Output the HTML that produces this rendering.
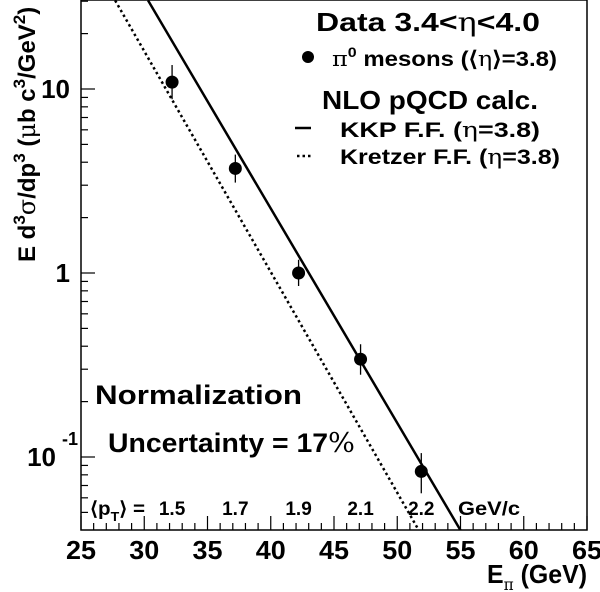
<!DOCTYPE html>
<html><head><meta charset="utf-8"><style>
body{margin:0;background:#fff}
svg{display:block;font-family:"Liberation Sans",Arial,sans-serif;font-weight:bold}
</style></head><body>
<svg id="chart" width="600" height="592" viewBox="0 0 600 592">
<rect x="81" y="0" width="506" height="530" fill="none" stroke="#000" stroke-width="1.5"/>
<g id="axes"></g>
<g id="marks"></g>
<g>
<text x="316" y="31" font-size="26" textLength="224" lengthAdjust="spacingAndGlyphs">Data 3.4&lt;<tspan font-weight="normal" font-family="DejaVu Serif,serif">η</tspan>&lt;4.0</text>
<circle cx="308" cy="57" r="6" fill="#000"/>
<text x="332" y="66" font-size="21" textLength="225" lengthAdjust="spacingAndGlyphs"><tspan font-weight="normal" font-family="DejaVu Serif,serif">π</tspan><tspan dy="-9" font-size="14">0</tspan><tspan dy="9"> mesons (⟨</tspan><tspan font-weight="normal" font-family="DejaVu Serif,serif">η</tspan>⟩=3.8)</text>
<text x="322" y="109" font-size="26" textLength="216" lengthAdjust="spacingAndGlyphs">NLO pQCD calc.</text>
<line x1="295" y1="128" x2="311" y2="128" stroke="#000" stroke-width="2.5"/>
<text x="340" y="137" font-size="21" textLength="200" lengthAdjust="spacingAndGlyphs">KKP F.F. (<tspan font-weight="normal" font-family="DejaVu Serif,serif">η</tspan>=3.8)</text>
<line x1="297" y1="156" x2="313" y2="156" stroke="#000" stroke-width="2.5" stroke-dasharray="2.5,3"/>
<text x="340" y="164" font-size="21" textLength="220" lengthAdjust="spacingAndGlyphs">Kretzer F.F. (<tspan font-weight="normal" font-family="DejaVu Serif,serif">η</tspan>=3.8)</text>
</g>
<text x="95" y="404" font-size="27" textLength="207" lengthAdjust="spacingAndGlyphs">Normalization</text>
<text x="108" y="452" font-size="27" textLength="247" lengthAdjust="spacingAndGlyphs">Uncertainty = 17<tspan font-weight="normal" font-family="DejaVu Serif,serif">%</tspan></text>
<text x="90" y="515" font-size="19" textLength="55" lengthAdjust="spacingAndGlyphs">⟨p<tspan dy="6" font-size="13">T</tspan><tspan dy="-6">⟩ =</tspan></text>
<g id="ptrow"></g>
<text x="458" y="515" font-size="19" textLength="62" lengthAdjust="spacingAndGlyphs">GeV/c</text>
<text transform="translate(35,262) rotate(-90)" font-size="24">E d<tspan dy="-10" font-size="17">3</tspan><tspan dy="10" font-weight="normal" font-family="DejaVu Serif,serif">σ</tspan>/dp<tspan dy="-10" font-size="17">3</tspan><tspan dy="10"> (</tspan><tspan font-weight="normal" font-family="DejaVu Serif,serif">μ</tspan>b c<tspan dy="-10" font-size="17">3</tspan><tspan dy="10">/GeV</tspan><tspan dy="-10" font-size="17">2</tspan><tspan dy="10">)</tspan></text>
<text x="487" y="583" font-size="26" textLength="100" lengthAdjust="spacingAndGlyphs">E<tspan dy="7" font-size="16" font-weight="normal" font-family="DejaVu Serif,serif">π</tspan><tspan dy="-7"> (GeV)</tspan></text>
</svg>
<script>
const xTicks=[25,30,35,40,45,50,55,60,65];
const ptLabels=["1.5","1.7","1.9","2.1","2.2"];
const ptPositions=[32.2,37.2,42.2,47.1,51.9];
const dataE=[32.2,37.2,42.2,47.1,51.9];
const dataY=[10.9,3.7,1.0,0.34,0.0835];
const errLo=[8.8,3.1,0.85,0.28,0.0635];
const errHi=[13.5,4.4,1.18,0.41,0.105];
const kkpE=[30.3,55.0];
const kkpY=[30.3,0.04];
const kretE=[27.7,51.7];
const kretY=[30.3,0.04];
const NS="http://www.w3.org/2000/svg";
const X0=81,X1=587,Ytop=0,Ybot=530;
const xs=v=>X0+(v-25)/40*(X1-X0);
const yDec=184, y10=89;
const ys=v=>y10+(1-Math.log10(v))*yDec;
function mk(tag,attrs,parent){const e=document.createElementNS(NS,tag);for(const k in attrs)e.setAttribute(k,attrs[k]);parent.appendChild(e);return e;}
const axes=document.getElementById('axes'),marks=document.getElementById('marks'),ptrow=document.getElementById('ptrow');
for(let v=25;v<=65;v+=1){const x=xs(v);const major=v%5===0;
 const t=mk('line',{x1:x,x2:x,y1:Ybot,y2:Ybot-(major?14:7),stroke:'#000','stroke-width':1.2},axes);
 
 }
xTicks.forEach(v=>{const t=mk('text',{x:xs(v),y:559,'text-anchor':'middle','font-size':26,textLength:30,lengthAdjust:'spacingAndGlyphs'},axes);t.textContent=v;
 
 });
for(let d=-2;d<=1;d++){for(let m=1;m<10;m++){const v=m*Math.pow(10,d);const y=ys(v);if(y<Ytop||y>Ybot)continue;
 const t=mk('line',{x1:X0,x2:X0+(m===1?14:7),y1:y,y2:y,stroke:'#000','stroke-width':1.2},axes);
 
 }}
[[10,'10',''],[1,'1',''],[0.1,'10','-1']].forEach(([v,s,e])=>{const t=mk('text',{x:e?56:70,y:ys(v)+9,'text-anchor':'end','font-size':26},axes);t.textContent=s;
 
 
 if(e){const s2=mk('text',{x:78,y:ys(v)-12,'text-anchor':'end','font-size':18},axes);s2.textContent=e;
 
 }});
ptLabels.forEach((l,i)=>{const t=mk('text',{x:xs(ptPositions[i]),y:515,'text-anchor':'middle','font-size':19},ptrow);t.textContent=l;
 
 });
const cp=mk('clipPath',{id:'clip'},marks);mk('rect',{x:X0,y:Ytop,width:X1-X0,height:Ybot-Ytop},cp);
const kk=mk('polyline',{points:kkpE.map((e,i)=>xs(e)+','+ys(kkpY[i])).join(' '),fill:'none',stroke:'#000','stroke-width':2.5,'clip-path':'url(#clip)'},marks);


const kr=mk('polyline',{points:kretE.map((e,i)=>xs(e)+','+ys(kretY[i])).join(' '),fill:'none',stroke:'#000','stroke-width':2.5,'stroke-dasharray':'2.5,3','clip-path':'url(#clip)'},marks);


dataE.forEach((e,i)=>{const x=xs(e);
 const l=mk('line',{x1:x,x2:x,y1:ys(errHi[i]),y2:ys(errLo[i]),stroke:'#000','stroke-width':1.3},marks);
 
 
 const c=mk('circle',{cx:x,cy:ys(dataY[i]),r:6.5,fill:'#000'},marks);
 
 });
</script>
</body></html>
